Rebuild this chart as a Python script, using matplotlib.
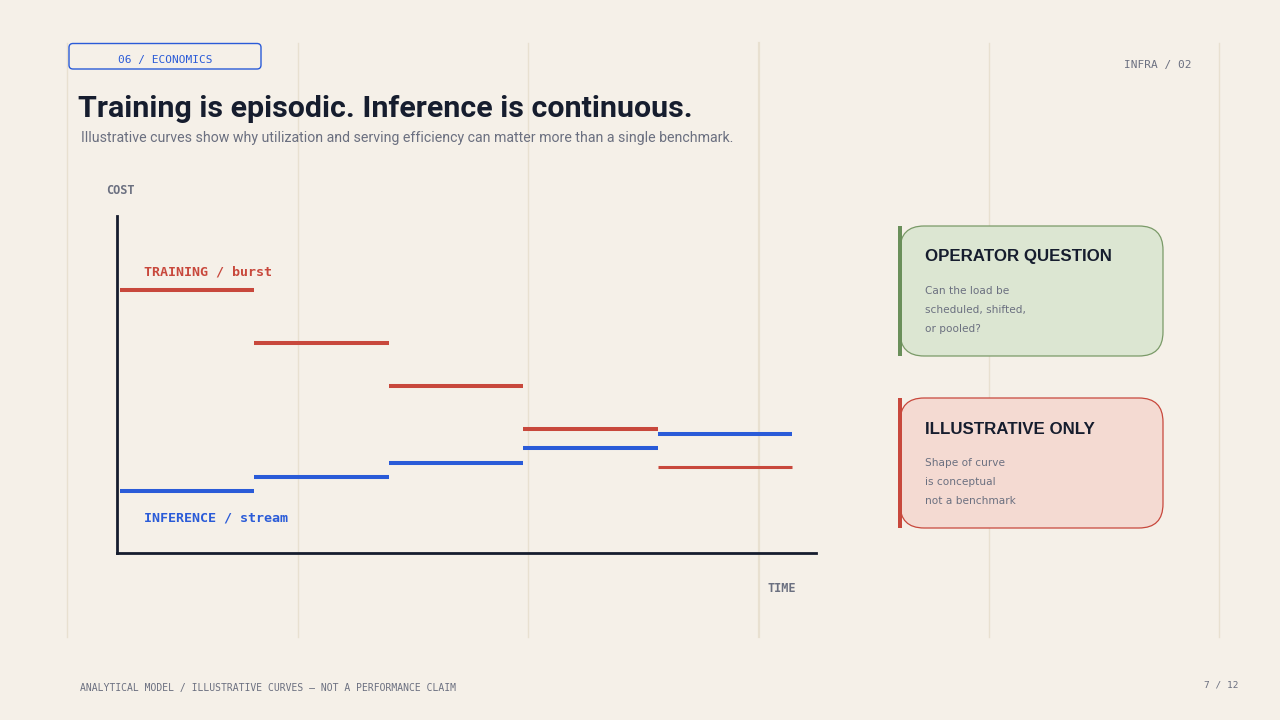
import matplotlib
matplotlib.use("Agg")
import matplotlib.pyplot as plt
from matplotlib.patches import FancyBboxPatch, Rectangle

# step values (cost on a 0-100 scale, 5 time periods)
periods = [0, 1, 2, 3, 4]
training_cost = [78, 62.3, 49.6, 36.8, 25.5]
inference_cost = [18.4, 22.6, 26.7, 31.2, 35.3]

BG = "#f5f0e8"
INK = "#161d2e"
GREY = "#6b7080"
RED = "#c8483c"
BLUE = "#2a5bd8"
GRID = "#e8e0d0"
MONO = "DejaVu Sans Mono"

fig = plt.figure(figsize=(12.8, 7.2), dpi=100, facecolor=BG)

# overlay in pixel coordinates for the slide furniture
ov = fig.add_axes([0, 0, 1, 1], zorder=0)
ov.set_xlim(0, 1280)
ov.set_ylim(720, 0)
ov.axis("off")
ov.set_facecolor(BG)

for gx in [67, 298, 528, 759, 989, 1219]:
    ov.plot([gx, gx], [43, 637], color=GRID, lw=1.0 if gx != 759 else 1.6, zorder=0)

# section tag
ov.add_patch(FancyBboxPatch((69, 43.5), 192, 25.5, boxstyle="round,pad=0,rounding_size=4",
                            fc=BG, ec=BLUE, lw=1.0, zorder=2))
ov.text(165, 59.5, "06 / ECONOMICS", color=BLUE, fontsize=8, family=MONO,
        ha="center", va="center", zorder=3)
ov.text(1191, 65, "INFRA / 02", color=GREY, fontsize=8, family=MONO,
        ha="right", va="center")

ov.text(78, 109, "Training is episodic. Inference is continuous.", color=INK,
        fontsize=21.9, fontweight="bold", family="Roboto", ha="left", va="center")
ov.text(81, 138, "Illustrative curves show why utilization and serving efficiency "
        "can matter more than a single benchmark.", color=GREY, fontsize=10.2,
        family="Roboto", ha="left", va="center")

ov.text(106, 190, "COST", color=GREY, fontsize=8.6, family=MONO, fontweight="bold",
        ha="left", va="center")
ov.text(768, 588, "TIME", color=GREY, fontsize=8.6, family=MONO, fontweight="bold",
        ha="left", va="center")

# cards
cards = [
    (226, "#dce6d2", "#7a9a68", "#6a8f5a", "OPERATOR QUESTION",
     ["Can the load be", "scheduled, shifted,", "or pooled?"]),
    (398, "#f4dad2", RED, RED, "ILLUSTRATIVE ONLY",
     ["Shape of curve", "is conceptual", "not a benchmark"]),
]
for top, fill, edge, bar, head, lines in cards:
    ov.add_patch(FancyBboxPatch((900, top), 263, 130, boxstyle="round,pad=0,rounding_size=24",
                                fc=fill, ec=edge, lw=0.9, zorder=2))
    ov.add_patch(Rectangle((898, top), 4, 130, fc=bar, ec="none", zorder=3))
    ov.text(925, top + 31, head, color=INK, fontsize=12.2, fontweight="bold",
            family="Liberation Sans", ha="left", va="center", zorder=4)
    for i, ln in enumerate(lines):
        ov.text(925, top + 65.5 + i * 18.7, ln, color=GREY, fontsize=7.6,
                family="DejaVu Sans", ha="left", va="center", zorder=4)

ov.text(80, 688, "ANALYTICAL MODEL / ILLUSTRATIVE CURVES \u2014 NOT A PERFORMANCE CLAIM",
        color=GREY, fontsize=7.0, family=MONO, ha="left", va="center")
ov.text(1239, 685, "7 / 12", color=GREY, fontsize=6.8, family=MONO, ha="right", va="center")

# the chart itself
ax = fig.add_axes([117 / 1280, (720 - 553) / 720, (816 - 117) / 1280, (553 - 216) / 720],
                  zorder=1)
ax.set_facecolor("none")
ax.set_xlim(-0.0223, 5.178)
ax.set_ylim(0, 100)
for s in ["top", "right"]:
    ax.spines[s].set_visible(False)
for s in ["left", "bottom"]:
    ax.spines[s].set_color(INK)
    ax.spines[s].set_linewidth(2.0)
ax.set_xticks([])
ax.set_yticks([])

for i, p in enumerate(periods):
    lw_t = 2.9 if i < len(periods) - 1 else 2.2
    ax.plot([p, p + 1], [training_cost[i], training_cost[i]], color=RED, lw=lw_t,
            solid_capstyle="butt")
    ax.plot([p, p + 1], [inference_cost[i], inference_cost[i]], color=BLUE, lw=2.9,
            solid_capstyle="butt")

ax.text(0.18, 83.5, "TRAINING / burst", color=RED, fontsize=9.6, family=MONO,
        fontweight="bold", ha="left", va="center")
ax.text(0.18, 10.5, "INFERENCE / stream", color=BLUE, fontsize=9.6, family=MONO,
        fontweight="bold", ha="left", va="center")

fig.savefig("out.png", dpi=100, facecolor=BG)
